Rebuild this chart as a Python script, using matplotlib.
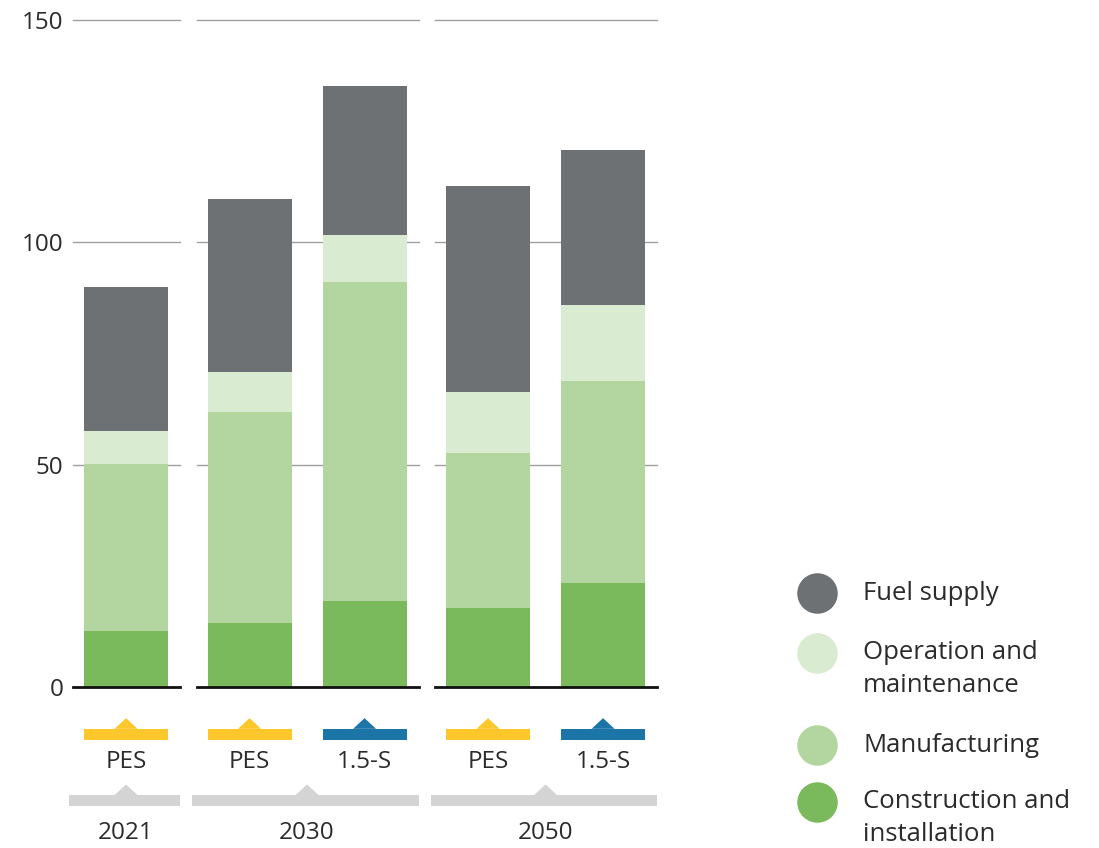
import matplotlib.pyplot as plt
from matplotlib.patches import Polygon, Rectangle

plt.rcParams['font.family'] = ['Open Sans', 'DejaVu Sans']

# values (stacked, bottom to top)
years = ["2021", "2030", "2050"]
group_sizes = [1, 2, 2]
scenarios = ["PES", "PES", "1.5-S", "PES", "1.5-S"]
construction = [12.6, 14.4, 19.3, 17.8, 23.4]
manufacturing = [37.5, 47.4, 71.8, 34.8, 45.4]
operation = [7.5, 9.0, 10.5, 13.7, 17.1]
fuel_supply = [32.4, 38.9, 33.5, 46.4, 34.9]

series = [
    ("Construction and\ninstallation", construction, "#7aba5c"),
    ("Manufacturing", manufacturing, "#b3d6a0"),
    ("Operation and\nmaintenance", operation, "#d9ecd2"),
    ("Fuel supply", fuel_supply, "#6d7173"),
]
scen_colors = {"PES": "#fcc72a", "1.5-S": "#1b75a7"}
txt = "#2b2b2b"
fs = 17.5

# x positions: step 1 inside a group, small extra gap between groups
gap = 0.074
xs = []
groups = []
x = 0.0
for g, n in enumerate(group_sizes):
    start = x
    for i in range(n):
        xs.append(x)
        x += 1
    groups.append((start, x - 1))
    x += gap

fig = plt.figure(figsize=(10.99, 8.48), dpi=100)
ax = fig.add_axes([66 / 1099, 0, (680 - 66) / 1099, 1])
ax.set_xlim(-0.522, 4.817)
ax.set_ylim(-36.2, 154.5)

bw = 0.73
bottom = [0] * len(xs)
for name, vals, col in series:
    ax.bar(xs, vals, bw, bottom=bottom, color=col, zorder=2)
    bottom = [b + v for b, v in zip(bottom, vals)]

# segmented gridlines and baseline per group
for a, b in groups:
    for yv in [50, 100, 150]:
        ax.plot([a - 0.46, b + 0.47], [yv, yv], color="#a0a0a0", lw=1, zorder=1)
    ax.plot([a - 0.46, b + 0.47], [0, 0], color="#111111", lw=2, zorder=3)

# scenario markers
for xi, sc in zip(xs, scenarios):
    c = scen_colors[sc]
    ax.add_patch(Rectangle((xi - bw / 2, -11.9), bw, 2.5, color=c, lw=0))
    ax.add_patch(Polygon([[xi - 0.1, -9.4], [xi + 0.1, -9.4], [xi, -7.0]], color=c, lw=0))
    ax.text(xi, -16.8, sc, ha="center", va="center", fontsize=fs, color=txt)

# year markers
for (a, b), yr in zip(groups, years):
    mid = (a + b) / 2
    ax.add_patch(Rectangle((a - 0.5, -26.8), b - a + 0.97, 2.5, color="#d4d4d4", lw=0))
    ax.add_patch(Polygon([[mid - 0.1, -24.3], [mid + 0.1, -24.3], [mid, -21.9]], color="#d4d4d4", lw=0))
    ax.text(mid, -32.8, yr, ha="center", va="center", fontsize=fs, color=txt)

ax.set_yticks([0, 50, 100, 150])
ax.tick_params(axis="y", length=0, pad=2, labelsize=fs, labelcolor=txt)
ax.set_xticks([])
for s in ax.spines.values():
    s.set_visible(False)

# legend drawn by hand
lax = fig.add_axes([0, 0, 1, 1])
lax.set_xlim(0, 1099)
lax.set_ylim(848, 0)
lax.axis("off")
leg_y = [593, 669, 745, 818]
for (name, vals, col), ly in zip(series[::-1], leg_y):
    cy = ly if "\n" not in name else ly - 16
    lax.scatter([817], [cy], s=850, color=col, lw=0)
    lax.text(863, ly, name, ha="left", va="center", fontsize=fs + 1, color=txt,
             linespacing=1.42)

fig.savefig("out.png", dpi=100)
